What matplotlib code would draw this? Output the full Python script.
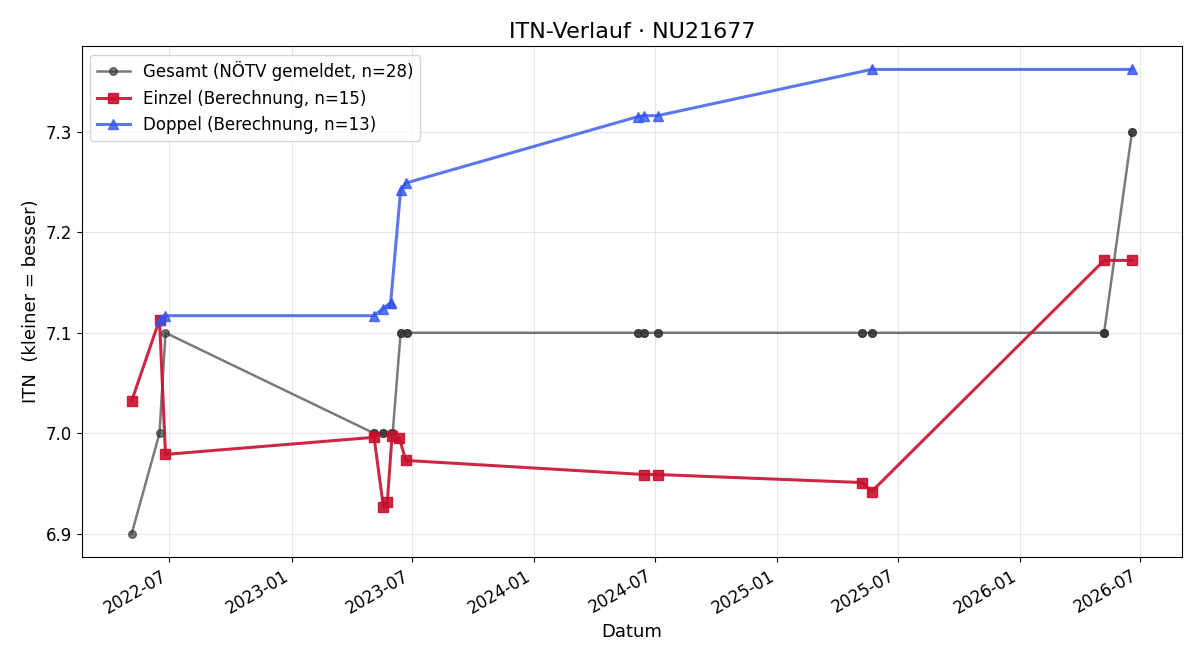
import pandas as pd
import matplotlib
matplotlib.use("Agg")
import matplotlib.pyplot as plt
import matplotlib.dates as mdates

gesamt_dates = ["2022-05-05", "2022-06-16", "2022-06-25", "2023-05-05", "2023-05-05",
                "2023-05-19", "2023-05-19", "2023-05-30", "2023-06-02", "2023-06-14",
                "2023-06-14", "2023-06-23", "2023-06-23", "2024-06-05", "2024-06-05",
                "2024-06-14", "2024-06-14", "2024-07-05", "2024-07-05", "2025-05-09",
                "2025-05-09", "2025-05-23", "2025-05-23", "2026-05-08", "2026-05-08",
                "2026-05-08", "2026-06-19", "2026-06-19"]
gesamt_itn = [6.9, 7.0, 7.1, 7.0, 7.0,
              7.0, 7.0, 7.0, 7.0, 7.1,
              7.1, 7.1, 7.1, 7.1, 7.1,
              7.1, 7.1, 7.1, 7.1, 7.1,
              7.1, 7.1, 7.1, 7.1, 7.1,
              7.1, 7.3, 7.3]

einzel_dates = ["2022-05-05", "2022-06-16", "2022-06-25", "2023-05-05", "2023-05-19",
                "2023-05-25", "2023-06-01", "2023-06-12", "2023-06-22", "2024-06-14",
                "2024-07-05", "2025-05-09", "2025-05-23", "2026-05-08", "2026-06-19"]
einzel_itn = [7.032, 7.113, 6.979, 6.996, 6.927,
              6.932, 6.997, 6.995, 6.973, 6.959,
              6.959, 6.951, 6.942, 7.172, 7.172]

doppel_dates = ["2022-06-16", "2022-06-25", "2023-05-05", "2023-05-18", "2023-05-30",
                "2023-05-30", "2023-06-14", "2023-06-22", "2024-06-05", "2024-06-14",
                "2024-07-05", "2025-05-23", "2026-06-19"]
doppel_itn = [7.113, 7.117, 7.117, 7.124, 7.130,
              7.130, 7.242, 7.249, 7.315, 7.316,
              7.316, 7.362, 7.362]

fig, ax = plt.subplots(figsize=(12, 6.6), dpi=100)

ax.plot(pd.to_datetime(gesamt_dates), gesamt_itn, marker="o", color="#333333", alpha=0.65,
        linewidth=1.8, markersize=5.5, label="Gesamt (NÖTV gemeldet, n=28)")
ax.plot(pd.to_datetime(einzel_dates), einzel_itn, marker="s", color="#c8102e", alpha=0.9,
        linewidth=2.2, markersize=7, label="Einzel (Berechnung, n=15)")
ax.plot(pd.to_datetime(doppel_dates), doppel_itn, marker="^", color="#3355ee", alpha=0.8,
        linewidth=2.2, markersize=7, label="Doppel (Berechnung, n=13)")

ax.set_title("ITN-Verlauf · NU21677", fontsize=16)
ax.set_xlabel("Datum", fontsize=13)
ax.set_ylabel("ITN  (kleiner = besser)", fontsize=13)
ax.grid(True, alpha=0.3)
ax.legend(loc="upper left", fontsize=12)

ax.xaxis.set_major_locator(mdates.MonthLocator(bymonth=[1, 7]))
ax.xaxis.set_major_formatter(mdates.DateFormatter("%Y-%m"))
ax.tick_params(labelsize=12)
fig.autofmt_xdate()

fig.subplots_adjust(left=0.068, right=0.985, top=0.93, bottom=0.156)
fig.savefig("out.png")
